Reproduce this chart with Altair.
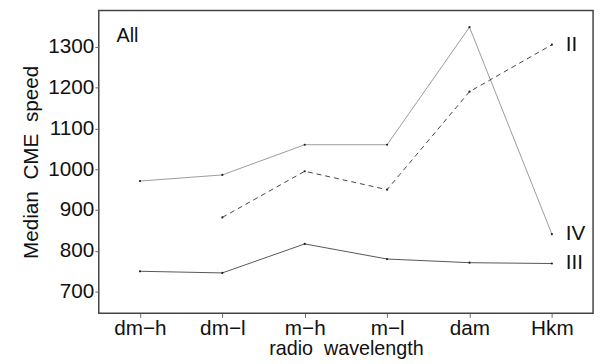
import altair as alt
import pandas as pd

categories = ["dm\u2212h", "dm\u2212l", "m\u2212h", "m\u2212l", "dam", "Hkm"]
series_IV = [971, 986, 1060, 1060, 1348, 841]
series_II = [None, 882, 995, 950, 1190, 1305]
series_III = [750, 746, 817, 780, 771, 769]
tick_values = [700, 800, 900, 1000, 1100, 1200, 1300]

rows = []
for name, vals in [("IV", series_IV), ("II", series_II), ("III", series_III)]:
    for c, v in zip(categories, vals):
        if v is not None:
            rows.append({"cat": c, "speed": v, "series": name})
df = pd.DataFrame(rows)

FONT = "Liberation Sans"
NB = "\u00a0"
xs = alt.X("cat:N", sort=categories, scale=alt.Scale(type="point", padding=0.5),
           axis=alt.Axis(title=f"radio{NB}{NB}wavelength", labelAngle=0, grid=False, domain=False,
                         tickSize=4, tickColor="#666", labelFontSize=21, titleFontSize=20,
                         labelColor="#111", titleColor="#111", labelFont=FONT, titleFont=FONT,
                         labelPadding=0, titlePadding=1, titleFontWeight="normal"))
ys = alt.Y("speed:Q", scale=alt.Scale(domain=[647, 1389], nice=False, zero=False),
           axis=alt.Axis(title=f"Median{NB}{NB}CME{NB}{NB}speed", values=tick_values, format="d",
                         grid=False, domain=False,
                         tickSize=4, tickColor="#666", labelFontSize=21, titleFontSize=21,
                         labelColor="#111", titleColor="#111", labelFont=FONT, titleFont=FONT,
                         labelPadding=1, titlePadding=6, titleFontWeight="normal"))

base = alt.Chart(df)

def line(name, color, dash=None):
    kw = dict(color=color, strokeWidth=1)
    if dash:
        kw["strokeDash"] = dash
    return base.transform_filter(alt.datum.series == name).mark_line(**kw).encode(x=xs, y=ys)

l_iv = line("IV", "#9a9a9a")
l_ii = line("II", "#444444", [5, 4])
l_iii = line("III", "#555555")
pts = base.mark_point(filled=True, size=5, color="#222", opacity=1).encode(x=xs, y=ys)

last = pd.DataFrame({
    "cat": ["Hkm", "Hkm", "Hkm"],
    "speed": [series_II[-1], series_IV[-1], series_III[-1]],
    "label": ["II", "IV", "III"],
    "dy": [0, -4, 4],
})
labels = alt.Chart(last).mark_text(align="left", baseline="middle", dx=14, fontSize=21,
                                   font=FONT, color="#111").encode(
    x=xs, y=ys, text="label:N", yOffset="dy:Q")

all_lbl = alt.Chart(pd.DataFrame({"t": ["All"]})).mark_text(
    align="left", baseline="middle", fontSize=20, font=FONT, color="#111").encode(
    x=alt.value(18), y=alt.value(26), text="t:N")

chart = alt.layer(l_iv, l_ii, l_iii, pts, labels, all_lbl).properties(
    width=501, height=307,
    autosize=alt.AutoSizeParams(type="none"),
    padding={"left": 92, "top": 0, "right": 5, "bottom": 56},
).configure(background="white").configure_view(stroke="#444", strokeWidth=1.5)

chart.save("out.html", embed_options={"renderer": "svg", "actions": False})
